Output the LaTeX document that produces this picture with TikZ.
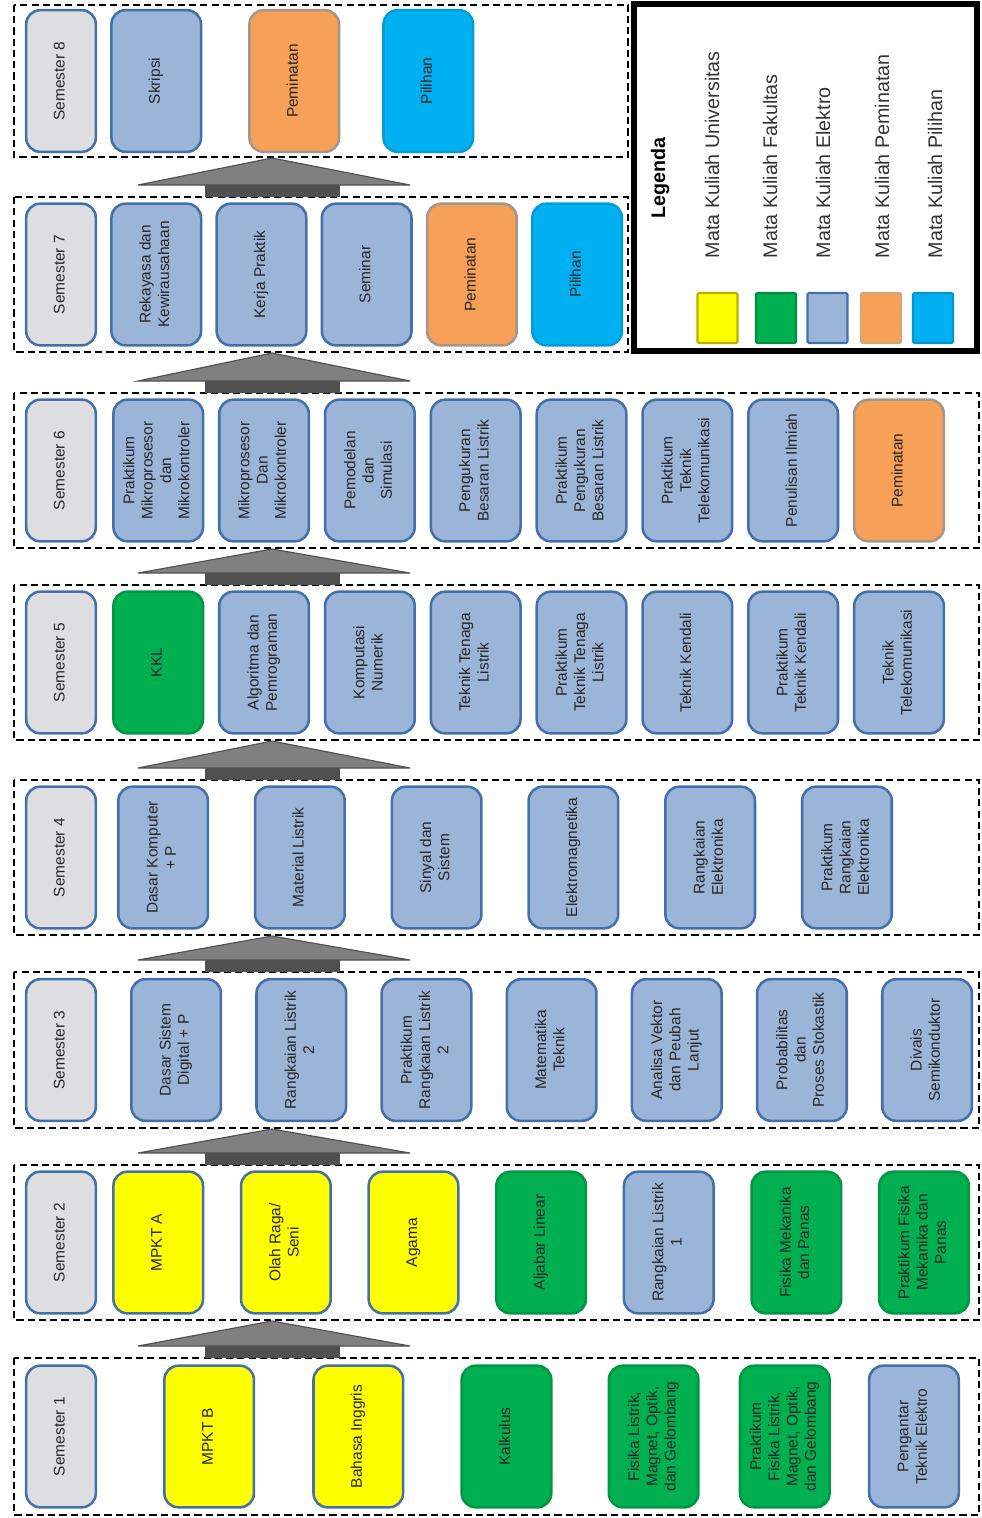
\documentclass[tikz,border=0pt]{standalone}
\usepackage{fontspec}
\setmainfont{Liberation Sans}
\usetikzlibrary{positioning}

\definecolor{elektrofill}{RGB}{155,181,216}
\definecolor{elektroline}{RGB}{68,112,170}
\definecolor{semfill}{RGB}{222,222,224}
\definecolor{univfill}{RGB}{255,255,0}
\definecolor{fakfill}{RGB}{0,176,80}
\definecolor{minatfill}{RGB}{247,160,88}
\definecolor{minatline}{RGB}{165,150,140}
\definecolor{pilfill}{RGB}{0,176,240}
\definecolor{arrhead}{RGB}{128,128,128}
\definecolor{arrshaft}{RGB}{80,80,80}

\newcommand{\vt}[1]{\rotatebox{90}{\begin{tabular}{@{}c@{}}#1\end{tabular}}}
\newcommand{\semarrow}[2]{%
  \fill[arrshaft] (205,#2-12) rectangle (340,#2);
  \filldraw[fill=arrhead, draw=arrshaft, line width=0.8pt]
    (138,#2-12) -- (272,#1) -- (410,#2-12) -- cycle;}

\begin{document}
\begin{tikzpicture}[
  x=0.025cm, y=-0.025cm,
  box/.style={draw=elektroline, line width=1.8pt, rounded corners=0.35cm,
              minimum width=2.24cm, minimum height=3.54cm, inner sep=0pt,
              outer sep=0pt, font=\fontsize{11}{13}\selectfont, text=black!85},
  semlabel/.style={box, fill=semfill, minimum width=1.74cm},
  elektro/.style={box, fill=elektrofill},
  univ/.style={box, fill=univfill},
  fak/.style={box, fill=fakfill, draw=fakfill!85!black},
  minat/.style={box, fill=minatfill, draw=minatline},
  pil/.style={box, fill=pilfill, draw=pilfill!90!black},
  band/.style={draw, line width=1.3pt, dash pattern=on 5pt off 3pt},
  legtext/.style={rotate=90, anchor=west, text=black!80,
                  font=\fontsize{14}{16}\selectfont},
  swatch/.style={draw, line width=1.5pt, rounded corners=1pt,
                 minimum width=1cm, minimum height=1.25cm}
]
  \useasboundingbox (0,0) rectangle (981,1518);

  % semester bands
  \draw[band] (14,5) rectangle (628,157);
  \draw[band] (14,197) rectangle (628,352);
  \draw[band] (14,393) rectangle (979,548);
  \draw[band] (14,585) rectangle (979,740);
  \draw[band] (14,780) rectangle (979,935);
  \draw[band] (14,972) rectangle (979,1128);
  \draw[band] (14,1165) rectangle (979,1320);
  \draw[band] (14,1358) rectangle (979,1515);

  \semarrow{158}{197}
  \semarrow{353}{393}
  \semarrow{549}{585}
  \semarrow{741}{780}
  \semarrow{936}{972}
  \semarrow{1129}{1165}
  \semarrow{1321}{1358}

  % Semester 8
  \node[semlabel] (s8) at (61,81) {\vt{Semester 8}};
  \node[elektro, right=0.39cm of s8]  (s8a) {\vt{Skripsi}};
  \node[minat,   right=1.21cm of s8a] (s8b) {\vt{Peminatan}};
  \node[pil,     right=1.11cm of s8b] (s8c) {\vt{Pilihan}};

  % Semester 7
  \node[semlabel] (s7) at (61,274.5) {\vt{Semester 7}};
  \node[elektro, right=0.39cm of s7]  (s7a) {\vt{Rekayasa dan\\Kewirausahaan}};
  \node[elektro, right=0.39cm of s7a] (s7b) {\vt{Kerja Praktik}};
  \node[elektro, right=0.39cm of s7b] (s7c) {\vt{Seminar}};
  \node[minat,   right=0.39cm of s7c] (s7d) {\vt{Peminatan}};
  \node[pil,     right=0.39cm of s7d] (s7e) {\vt{Pilihan}};

  % Semester 6
  \node[semlabel] (s6) at (61,470.5) {\vt{Semester 6}};
  \node[elektro, right=0.44cm of s6]   (s6a) {\vt{Praktikum\\Mikroprosesor\\dan\\Mikrokontroler}};
  \node[elektro, right=0.405cm of s6a] (s6b) {\vt{Mikroprosesor\\Dan\\Mikrokontroler}};
  \node[elektro, right=0.405cm of s6b] (s6c) {\vt{Pemodelan\\dan\\Simulasi}};
  \node[elektro, right=0.405cm of s6c] (s6d) {\vt{Pengukuran\\Besaran Listrik}};
  \node[elektro, right=0.405cm of s6d] (s6e) {\vt{Praktikum\\Pengukuran\\Besaran Listrik}};
  \node[elektro, right=0.405cm of s6e] (s6f) {\vt{Praktikum\\Teknik\\Telekomunikasi}};
  \node[elektro, right=0.405cm of s6f] (s6g) {\vt{Penulisan Ilmiah}};
  \node[minat,   right=0.405cm of s6g] (s6h) {\vt{Peminatan}};

  % Semester 5
  \node[semlabel] (s5) at (61,662.5) {\vt{Semester 5}};
  \node[fak,     right=0.44cm of s5]   (s5a) {\vt{KKL}};
  \node[elektro, right=0.405cm of s5a] (s5b) {\vt{Algoritma dan\\Pemrograman}};
  \node[elektro, right=0.405cm of s5b] (s5c) {\vt{Komputasi\\Numerik}};
  \node[elektro, right=0.405cm of s5c] (s5d) {\vt{Teknik Tenaga\\Listrik}};
  \node[elektro, right=0.405cm of s5d] (s5e) {\vt{Praktikum\\Teknik Tenaga\\Listrik}};
  \node[elektro, right=0.405cm of s5e] (s5f) {\vt{Teknik Kendali}};
  \node[elektro, right=0.405cm of s5f] (s5g) {\vt{Praktikum\\Teknik Kendali}};
  \node[elektro, right=0.405cm of s5g] (s5h) {\vt{Teknik\\Telekomunikasi}};

  % Semester 4
  \node[semlabel] (s4) at (61,857.5) {\vt{Semester 4}};
  \node[elektro, right=0.563cm of s4]  (s4a) {\vt{Dasar Komputer\\+ P}};
  \node[elektro, right=1.178cm of s4a] (s4b) {\vt{Material Listrik}};
  \node[elektro, right=1.178cm of s4b] (s4c) {\vt{Sinyal dan\\Sistem}};
  \node[elektro, right=1.178cm of s4c] (s4d) {\vt{Elektromagnetika}};
  \node[elektro, right=1.178cm of s4d] (s4e) {\vt{Rangkaian\\Elektronika}};
  \node[elektro, right=1.178cm of s4e] (s4f) {\vt{Praktikum\\Rangkaian\\Elektronika}};

  % Semester 3
  \node[semlabel] (s3) at (61,1050) {\vt{Semester 3}};
  \node[elektro, right=0.888cm of s3]  (s3a) {\vt{Dasar Sistem\\Digital + P}};
  \node[elektro, right=0.888cm of s3a] (s3b) {\vt{Rangkaian Listrik\\2}};
  \node[elektro, right=0.888cm of s3b] (s3c) {\vt{Praktikum\\Rangkaian Listrik\\2}};
  \node[elektro, right=0.888cm of s3c] (s3d) {\vt{Matematika\\Teknik}};
  \node[elektro, right=0.888cm of s3d] (s3e) {\vt{Analisa Vektor\\dan Peubah\\Lanjut}};
  \node[elektro, right=0.888cm of s3e] (s3f) {\vt{Probabilitas\\dan\\Proses Stokastik}};
  \node[elektro, right=0.888cm of s3f] (s3g) {\vt{Divais\\Semikonduktor}};

  % Semester 2
  \node[semlabel] (s2) at (61,1242.5) {\vt{Semester 2}};
  \node[univ,    right=0.44cm of s2]  (s2a) {\vt{MPKT A}};
  \node[univ,    right=0.95cm of s2a] (s2b) {\vt{Olah Raga/\\Seni}};
  \node[univ,    right=0.95cm of s2b] (s2c) {\vt{Agama}};
  \node[fak,     right=0.95cm of s2c] (s2d) {\vt{Aljabar Linear}};
  \node[elektro, right=0.95cm of s2d] (s2e) {\vt{Rangkaian Listrik\\1}};
  \node[fak,     right=0.95cm of s2e] (s2f) {\vt{Fisika Mekanika\\dan Panas}};
  \node[fak,     right=0.95cm of s2f] (s2g) {\vt{Praktikum Fisika\\Mekanika dan\\Panas}};

  % Semester 1
  \node[semlabel] (s1) at (61,1436.5) {\vt{Semester 1}};
  \node[univ,    right=1.713cm of s1]  (s1a) {\vt{MPKT B}};
  \node[univ,    right=1.488cm of s1a] (s1b) {\vt{Bahasa Inggris}};
  \node[fak,     right=1.463cm of s1b] (s1c) {\vt{Kalkulus}};
  \node[fak,     right=1.438cm of s1c] (s1d) {\vt{Fisika Listrik,\\Magnet, Optik,\\dan Gelombang}};
  \node[fak,     right=1.038cm of s1d] (s1e) {\vt{Praktikum\\Fisika Listrik,\\Magnet, Optik,\\dan Gelombang}};
  \node[elektro, right=0.988cm of s1e] (s1f) {\vt{Pengantar\\Teknik Elektro}};

  % legend
  \draw[line width=4pt] (634,4) rectangle (977,351);
  \node[rotate=90, anchor=west, font=\bfseries\fontsize{14}{16}\selectfont]
       (leg) at (660,223) {Legenda};
  \node[legtext] (lu) at (712,263) {Mata Kuliah Universitas};
  \node[legtext] (lf) at (770,263) {Mata Kuliah Fakultas};
  \node[legtext] (le) at (823,263) {Mata Kuliah Elektro};
  \node[legtext] (lm) at (882,263) {Mata Kuliah Peminatan};
  \node[legtext] (lp) at (935,263) {Mata Kuliah Pilihan};
  \node[swatch, fill=univfill, draw=olive!60!yellow] (su) at (717.5,318) {};
  \node[swatch, fill=fakfill, draw=fakfill!80!black]  (sf) at (776,318) {};
  \node[swatch, fill=elektrofill, draw=elektroline]   (se) at (827.5,318) {};
  \node[swatch, fill=minatfill, draw=brown!70]        (sm) at (881,318) {};
  \node[swatch, fill=pilfill, draw=pilfill!85!black]  (sp) at (933,318) {};
\end{tikzpicture}
\end{document}
